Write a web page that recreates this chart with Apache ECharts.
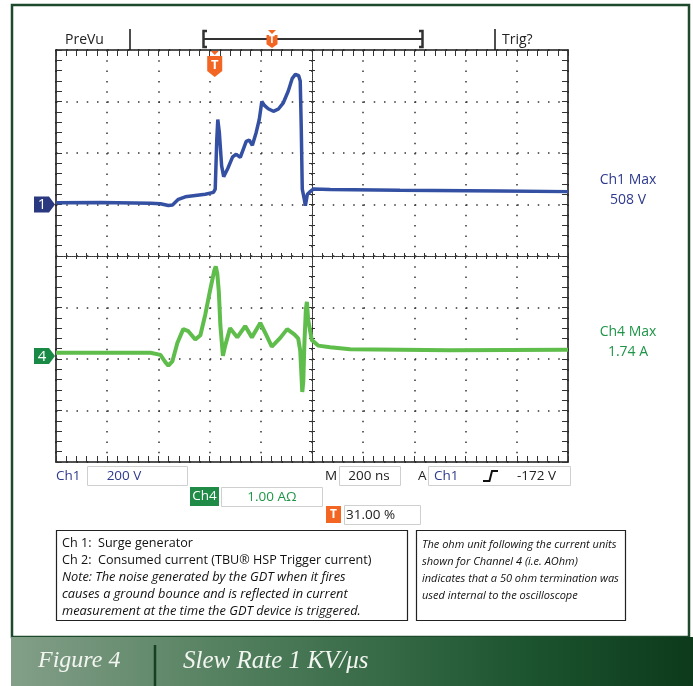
<!DOCTYPE html>
<html>
<head>
<meta charset="utf-8">
<script src="https://cdn.jsdelivr.net/npm/echarts@6/dist/echarts.min.js"></script>
<style>
html,body{margin:0;padding:0;background:#fff;}
#chart{width:693px;height:686px;}
</style>
</head>
<body>
<div id="chart"></div>
<script>
// ---- Data (time in ns relative to trigger) ----
const ch1Time = [-620,-446,-251,-212,-181,-165,-142,-115,-76,-37,-5,2,8,12,18,27,35,51,70,84,100,123,135,147,162,174,184,194,209,229,248,268,287,303,315,328,334,338,342,350,354,362,373,385,451,724,1115,1380];
const ch1Volts = [7,8,5,3,-4,-2,20,30,35,40,47,60,250,330,280,150,108,140,185,195,183,245,250,230,280,330,400,385,372,362,370,395,440,490,505,500,480,300,60,20,-5,40,50,60,58,55,52,50];
const ch4Time = [-620,-251,-212,-193,-181,-165,-146,-123,-103,-76,-56,-37,-17,-2,4,10,16,22,32,41,60,88,119,145,178,197,223,256,283,311,326,334,342,346,350,356,360,365,379,404,451,529,919,1380];
const ch4Amps = [0.06,0.06,0.02,-0.12,-0.19,-0.1,0.25,0.52,0.48,0.32,0.4,0.8,1.3,1.65,1.74,1.6,1.25,0.6,0.0,0.2,0.54,0.36,0.58,0.36,0.64,0.45,0.18,0.35,0.52,0.42,0.34,0.1,-0.7,-0.5,0.2,0.9,1.05,0.7,0.31,0.2,0.17,0.13,0.11,0.12];

// scope settings
const timePerDiv = 200;      // ns
const triggerPos = 0.31;     // 31 %
const ch1VoltsPerDiv = 200;  // V
const ch1Offset = 1;         // div above centre
const ch4AmpsPerDiv = 1;     // A
const ch4Offset = -1.94;     // div (below centre)

const infoTexts = {
  ch1Max: 'Ch1 Max', ch1MaxVal: '508 V', ch4Max: 'Ch4 Max', ch4MaxVal: '1.74 A'
};

const noteLeft = [
  ['Ch 1:  Surge generator', false],
  ['Ch 2:  Consumed current (TBU\u00AE HSP Trigger current)', false],
  ['Note: The noise generated by the GDT when it fires', true],
  ['causes a ground bounce and is reflected in current', true],
  ['measurement at the time the GDT device is triggered.', true]
];
const noteRight = [
  'The ohm unit following the current units',
  'shown for Channel 4 (i.e. AOhm)',
  'indicates that a 50 ohm termination was',
  'used internal to the oscilloscope'
];

const ch1Data = ch1Time.map((t, i) => [t, ch1Volts[i]]);
const ch4Data = ch4Time.map((t, i) => [t, ch4Amps[i]]);

const BLUE = '#3450a3', GREEN = '#5fbd4b', NAVY = '#2e3a8c', DKGREEN = '#1f9548', ORANGE = '#f26522';
const FONT = '"Open Sans", "Noto Sans", sans-serif';

const chart = echarts.init(document.getElementById('chart'), null, {renderer: 'canvas'});

const tMin = -triggerPos * 10 * timePerDiv;
const tMax = tMin + 10 * timePerDiv;

const dotH = [1.5, 8.75];
const dotV = [1.5, 8.8];

function frameX(pos, split) {
  return {
    type: 'value', min: -5, max: 5, interval: 1, position: pos,
    axisLine: {show: true, onZero: false, lineStyle: {color: '#1a1a1a', width: 1.6}},
    axisTick: {show: true, inside: true, length: 6, lineStyle: {color: '#333', width: 1}},
    minorTick: {show: true, splitNumber: 5, length: 6, lineStyle: {color: '#333', width: 1}},
    axisLabel: {show: false},
    splitLine: {show: split, lineStyle: {color: '#333', width: 1.5, type: dotV}},
    minorSplitLine: {show: false}
  };
}
function frameY(pos, split) {
  return {
    type: 'value', min: -4, max: 4, interval: 1, position: pos,
    axisLine: {show: true, onZero: false, lineStyle: {color: '#1a1a1a', width: 1.6}},
    axisTick: {show: true, inside: true, length: 6, lineStyle: {color: '#333', width: 1}},
    minorTick: {show: true, splitNumber: 5, length: 6, lineStyle: {color: '#333', width: 1}},
    axisLabel: {show: false},
    splitLine: {show: split, lineStyle: {color: '#333', width: 1.5, type: dotH}},
    minorSplitLine: {show: false}
  };
}
function centerX(pos) {
  return {
    type: 'value', min: -5, max: 5, interval: 1, position: pos,
    axisLine: {show: true, onZero: true, onZeroAxisIndex: 0, lineStyle: {color: '#333', width: 1, type: [1, 1]}},
    axisTick: {show: true, inside: true, length: 3, lineStyle: {color: '#333', width: 1}},
    minorTick: {show: true, splitNumber: 5, length: 3, lineStyle: {color: '#333', width: 1}},
    axisLabel: {show: false}, splitLine: {show: false}
  };
}
function centerY(pos) {
  return {
    type: 'value', min: -4, max: 4, interval: 1, position: pos,
    axisLine: {show: true, onZero: true, onZeroAxisIndex: 0, lineStyle: {color: '#333', width: 1, type: [1, 1]}},
    axisTick: {show: true, inside: true, length: 3, lineStyle: {color: '#333', width: 1}},
    minorTick: {show: true, splitNumber: 5, length: 3, lineStyle: {color: '#333', width: 1}},
    axisLabel: {show: false}, splitLine: {show: false}
  };
}

function txt(text, x, y, opts) {
  return Object.assign({
    type: 'text', silent: true,
    style: Object.assign({text: text, x: x, y: y, font: '13px ' + FONT, fill: '#222', textVerticalAlign: 'middle', textAlign: 'left'}, opts || {})
  });
}
function box(x, y, w, h, stroke, fill, lw) {
  return {type: 'rect', silent: true, shape: {x: x, y: y, width: w, height: h},
    style: {fill: fill || 'none', stroke: stroke || 'none', lineWidth: lw || 1}};
}
function line(pts, color, w) {
  return {type: 'polyline', silent: true, shape: {points: pts}, style: {stroke: color, lineWidth: w, fill: 'none'}};
}
function tMarker(cx, top, w, h, fontSize) {
  const hw = w / 2;
  return [
    {type: 'polygon', silent: true, shape: {points: [[cx - 4, top], [cx + 4, top], [cx, top + 4]]}, style: {fill: ORANGE}},
    {type: 'polygon', silent: true, shape: {points: [[cx - hw, top + 5], [cx + hw, top + 5], [cx + hw, top + 5 + h * 0.72], [cx, top + 5 + h], [cx - hw, top + 5 + h * 0.72]]}, style: {fill: ORANGE}},
    txt('T', cx, top + 5 + h * 0.42, {font: 'bold ' + fontSize + 'px ' + FONT, fill: '#fff', textAlign: 'center'})
  ];
}
function chMarker(label, yc, color) {
  return [
    {type: 'polygon', silent: true, shape: {points: [[34, yc - 8], [49, yc - 8], [55, yc], [49, yc + 8], [34, yc + 8]]}, style: {fill: color}},
    txt(label, 42, yc + 0.5, {font: '15px ' + FONT, fill: '#fff', textAlign: 'center'})
  ];
}

const option = {
  backgroundColor: '#fff',
  animation: false,
  grid: {left: 56, right: 125, top: 50, bottom: 224, containLabel: false},
  xAxis: [
    frameX('bottom', true),
    frameX('top', false),
    centerX('bottom'),
    centerX('top'),
    {type: 'value', min: tMin, max: tMax, show: false, axisLine: {onZero: false}}
  ],
  yAxis: [
    frameY('left', true),
    frameY('right', false),
    centerY('left'),
    centerY('right'),
    {type: 'value', min: (-4 - ch1Offset) * ch1VoltsPerDiv, max: (4 - ch1Offset) * ch1VoltsPerDiv, show: false, axisLine: {onZero: false}},
    {type: 'value', min: (-4 - ch4Offset) * ch4AmpsPerDiv, max: (4 - ch4Offset) * ch4AmpsPerDiv, show: false, axisLine: {onZero: false}}
  ],
  series: [
    {name: 'Ch1', type: 'line', xAxisIndex: 4, yAxisIndex: 4, data: ch1Data, showSymbol: false, symbol: 'none',
      lineStyle: {color: BLUE, width: 3.5}, z: 5},
    {name: 'Ch4', type: 'line', xAxisIndex: 4, yAxisIndex: 5, data: ch4Data, showSymbol: false, symbol: 'none',
      lineStyle: {color: GREEN, width: 4}, z: 4}
  ]
};
chart.setOption(option);

const trigX = chart.convertToPixel({xAxisIndex: 4}, 0);
const ch1Y = chart.convertToPixel({yAxisIndex: 4}, 0);
const ch4Y = chart.convertToPixel({yAxisIndex: 5}, 0);

const g = [];
// outer frame
g.push(box(12, 5, 677, 632, '#1d4a2a', 'none', 2.5));
// banner
g.push({type: 'rect', silent: true, shape: {x: 11, y: 637, width: 682, height: 49},
  style: {fill: new echarts.graphic.LinearGradient(0, 0, 1, 0, [
    {offset: 0, color: '#839f88'}, {offset: 0.35, color: '#4f7d5b'}, {offset: 0.75, color: '#1d5530'}, {offset: 1, color: '#0c3a1b'}])}});
g.push(line([[155, 645], [155, 686]], '#173f22', 2.5));
g.push(txt('Figure 4', 38, 661, {font: 'italic 24px "Liberation Serif", serif', fill: '#f3f5f1'}));
g.push(txt('Slew Rate 1 KV/\u03BCs', 183, 661, {font: 'italic 25px "Liberation Serif", serif', fill: '#f3f5f1'}));

// header
g.push(txt('PreVu', 65, 40, {font: '14px ' + FONT}));
g.push(line([[130, 29], [130, 50]], '#222', 1.6));
g.push(line([[495, 29], [495, 50]], '#222', 1.6));
g.push(txt('Trig?', 502, 40, {font: '14px ' + FONT}));
g.push(line([[207, 31], [203.5, 31], [203.5, 47], [207, 47]], '#333', 2.5));
g.push(line([[419, 31], [422.5, 31], [422.5, 47], [419, 47]], '#333', 2.5));
g.push(line([[204, 39], [422, 39]], '#333', 1.8));
tMarker(272, 30, 11, 13, 10).forEach(e => g.push(e));
tMarker(trigX, 51, 15, 21, 13).forEach(e => g.push(e));

// channel markers
chMarker('1', ch1Y, '#29387f').forEach(e => g.push(e));
chMarker('4', ch4Y, '#188a45').forEach(e => g.push(e));

// right side measurements
g.push(txt(infoTexts.ch1Max, 628, 180, {font: '14px ' + FONT, fill: NAVY, textAlign: 'center'}));
g.push(txt(infoTexts.ch1MaxVal, 628, 200, {font: '14px ' + FONT, fill: NAVY, textAlign: 'center'}));
g.push(txt(infoTexts.ch4Max, 628, 332, {font: '14px ' + FONT, fill: DKGREEN, textAlign: 'center'}));
g.push(txt(infoTexts.ch4MaxVal, 628, 352, {font: '14px ' + FONT, fill: DKGREEN, textAlign: 'center'}));

// info row
const F13 = '13.5px ' + FONT;
g.push(txt('Ch1', 56, 476, {font: F13, fill: NAVY}));
g.push(box(87.5, 466.5, 100, 19, '#cfcfcf'));
g.push(txt('200 V', 124, 476, {font: F13, fill: NAVY, textAlign: 'center'}));
g.push(txt('M', 325, 476, {font: F13, fill: '#222'}));
g.push(box(339.5, 466.5, 61, 19, '#cfcfcf'));
g.push(txt('200 ns', 369, 476, {font: F13, fill: '#222', textAlign: 'center'}));
g.push(txt('A', 418, 476, {font: F13, fill: '#222'}));
g.push(box(428.5, 466.5, 142, 19, '#cfcfcf'));
g.push(txt('Ch1', 434, 476, {font: F13, fill: NAVY}));
g.push(line([[483, 481], [489.5, 481], [492, 471], [498, 471]], '#111', 2));
g.push(txt('-172 V', 517, 476, {font: F13, fill: '#222'}));
g.push(box(190, 487, 29, 19, null, '#1f8b47'));
g.push(txt('Ch4', 204.5, 496.5, {font: F13, fill: '#fff', textAlign: 'center'}));
g.push(box(221.5, 487.5, 101, 19, '#cfcfcf'));
g.push(txt('1.00 A\u03A9', 272, 497, {font: F13, fill: DKGREEN, textAlign: 'center'}));
g.push(box(326, 506, 15, 17, null, ORANGE));
g.push(txt('T', 333.5, 514.5, {font: 'bold 12px ' + FONT, fill: '#fff', textAlign: 'center'}));
g.push(box(344.5, 505.5, 76, 19, '#cfcfcf'));
g.push(txt('31.00 %', 346, 515, {font: F13, fill: '#222'}));

// note boxes
g.push(box(56.5, 530.5, 351, 90, '#222', 'none', 1.2));
noteLeft.forEach((l, i) => g.push(txt(l[0], 62, 543 + i * 17, {font: (l[1] ? 'italic 12.8px ' : '12.6px ') + FONT, fill: '#111'})));
g.push(box(416.5, 530.5, 209, 90, '#222', 'none', 1.2));
noteRight.forEach((l, i) => g.push(txt(l, 422, 545 + i * 17, {font: 'italic 11px ' + FONT, fill: '#111'})));

chart.setOption({graphic: {elements: g}});
</script>
</body>
</html>
